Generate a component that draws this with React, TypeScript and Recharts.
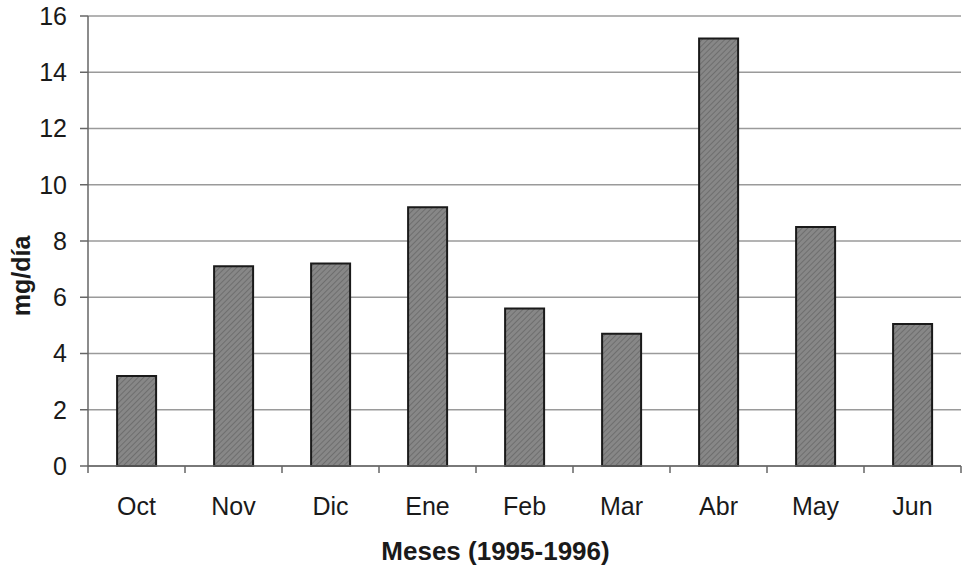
import React from 'react';
import { BarChart, Bar, XAxis, YAxis, CartesianGrid } from 'recharts';

const months = ['Oct', 'Nov', 'Dic', 'Ene', 'Feb', 'Mar', 'Abr', 'May', 'Jun'];
const mgPerDay = [3.2, 7.1, 7.2, 9.2, 5.6, 4.7, 15.2, 8.5, 5.05];
const yTicks = [0, 2, 4, 6, 8, 10, 12, 14, 16];
// category edges (integers) and category centres (halves) on a 0..9 scale
const xTicks = [0, 0.5, 1, 1.5, 2, 2.5, 3, 3.5, 4, 4.5, 5, 5.5, 6, 6.5, 7, 7.5, 8, 8.5, 9];

const data = months.map((m, i) => ({ month: m, pos: i + 0.5, value: mgPerDay[i] }));

const FONT = '"Liberation Sans", Arial, sans-serif';
const TEXT = '#1a1a1a';

// bottom axis: tick marks at the category edges, month names at the centres
const EdgeTick = (props: any) => {
  const { x, y, payload } = props;
  const v = payload.value;
  if (Number.isInteger(v)) {
    return <line x1={x} x2={x} y1={y} y2={y + 7} stroke="#666" strokeWidth={1.5} />;
  }
  return (
    <text x={x} y={y + 49} textAnchor="middle" fill={TEXT} fontSize={25} fontFamily={FONT}>
      {months[Math.floor(v)]}
    </text>
  );
};

const XTitle = (props: any) => {
  const { viewBox } = props;
  return (
    <text
      x={viewBox.x + viewBox.width / 2 - 29}
      y={viewBox.y + 94}
      textAnchor="middle"
      fill={TEXT}
      fontSize={26}
      fontWeight="bold"
      fontFamily={FONT}
    >
      Meses (1995-1996)
    </text>
  );
};

const YTitle = (props: any) => {
  const { viewBox } = props;
  const cx = 30;
  const cy = viewBox.y + viewBox.height / 2 + 35;
  return (
    <text
      x={cx}
      y={cy}
      transform={`rotate(-90, ${cx}, ${cy})`}
      textAnchor="middle"
      fill={TEXT}
      fontSize={25}
      fontWeight="bold"
      fontFamily={FONT}
    >
      mg/día
    </text>
  );
};

const App: React.FC = () => {
  return (
    <div style={{ width: 963, height: 568, background: '#fff' }}>
      <style>{'body{margin:0}'}</style>
      <BarChart
        width={963}
        height={568}
        data={data}
        margin={{ top: 16, right: 2, bottom: 0, left: 0 }}
        barCategoryGap="30%"
        style={{ fontFamily: FONT }}
      >
        <defs>
          <pattern id="hatch" width="4" height="4" patternUnits="userSpaceOnUse" patternTransform="rotate(45)">
            <rect width="4" height="4" fill="#878787" />
            <line x1="0" y1="0" x2="0" y2="4" stroke="#6e6e6e" strokeWidth="2" />
          </pattern>
        </defs>
        <CartesianGrid vertical={false} stroke="#9a9a9a" strokeWidth={1.5} />
        <XAxis dataKey="month" hide height={0} />
        <XAxis
          xAxisId="edges"
          dataKey="pos"
          type="number"
          scale="linear"
          domain={[0, 9]}
          allowDataOverflow
          ticks={xTicks}
          interval={0}
          height={102}
          tickSize={0}
          tickMargin={0}
          tickLine={false}
          tick={<EdgeTick />}
          stroke="#666"
          strokeWidth={1.5}
          label={<XTitle />}
        />
        <YAxis
          domain={[0, 16]}
          ticks={yTicks}
          width={88}
          tickSize={8}
          tickMargin={13}
          stroke="#666"
          strokeWidth={1.5}
          tick={{ fill: TEXT, fontSize: 25, fontFamily: FONT }}
          label={<YTitle />}
        />
        <YAxis
          yAxisId="right"
          orientation="right"
          domain={[0, 16]}
          width={0}
          tick={false}
          tickLine={false}
          stroke="#888"
          strokeWidth={1.5}
        />
        <Bar
          dataKey="value"
          fill="url(#hatch)"
          stroke={TEXT}
          strokeWidth={2}
          isAnimationActive={false}
        />
      </BarChart>
    </div>
  );
};

export default App;
